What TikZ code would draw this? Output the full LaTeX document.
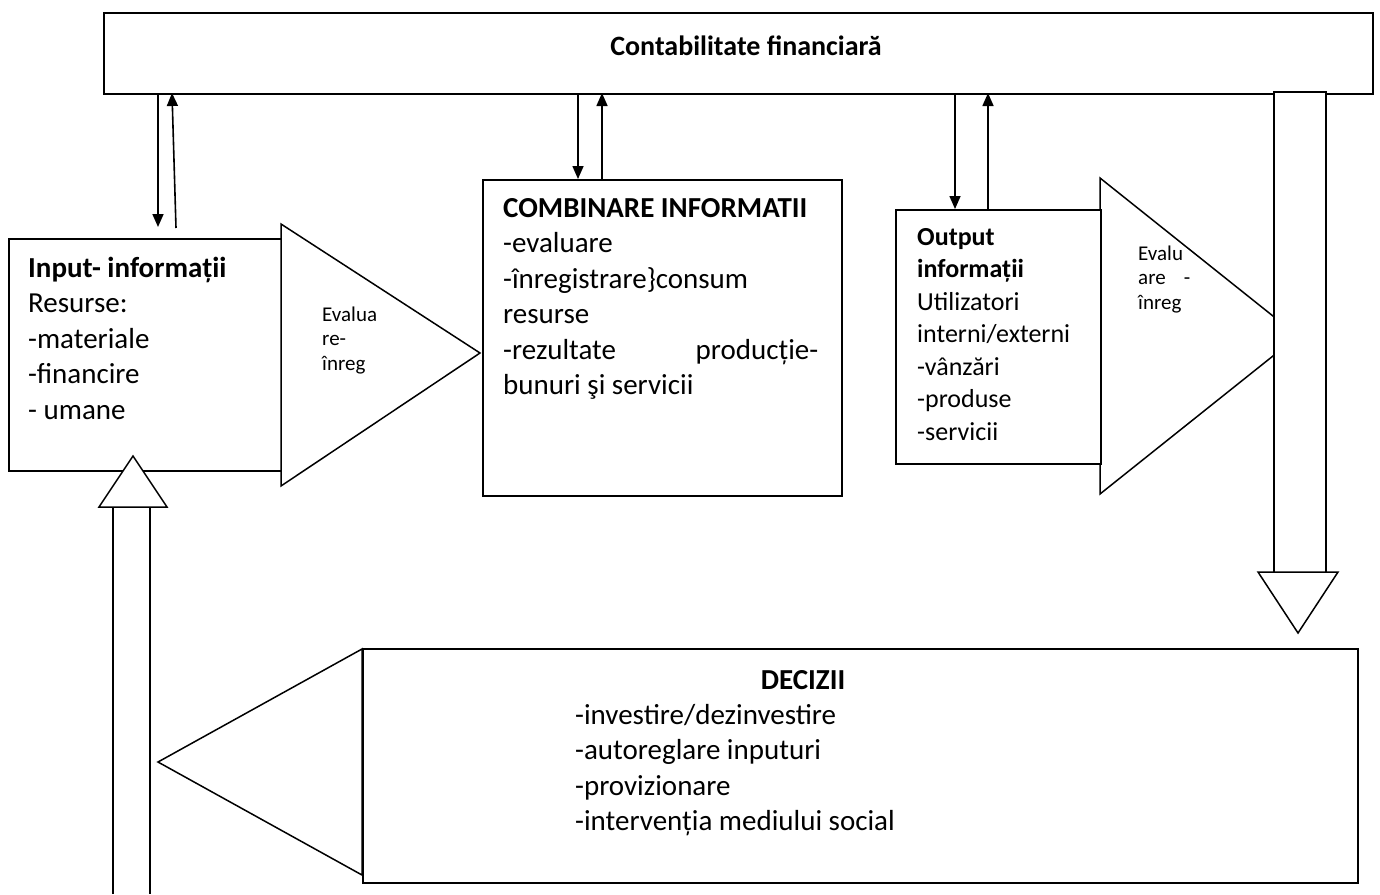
\documentclass[tikz,border=0pt]{standalone}
\usepackage{fontspec}
\setmainfont{Carlito}
\usetikzlibrary{arrows.meta}

\begin{document}
\begin{tikzpicture}[x=1pt,y=-1pt]
\tikzset{
  box/.style={draw,line width=1.5pt,fill=white,anchor=north west,inner sep=0pt},
  wedge/.style={draw,line width=1.5pt,fill=white,line join=miter},
  bigtext/.style={anchor=base west,inner sep=0pt,align=flush left,font=\fontsize{29}{35.5}\selectfont},
  outtext/.style={anchor=base west,inner sep=0pt,align=flush left,font=\fontsize{26}{32.5}\selectfont},
  smalltext/.style={anchor=base west,inner sep=0pt,align=flush left,font=\fontsize{21}{24.5}\selectfont},
  flow/.style={-{Triangle[length=13pt,width=11pt]},line width=1.6pt}
}
\useasboundingbox (0,0) rectangle (1380,894);

% top bar
\node[box,minimum width=1269pt,minimum height=81pt] (fin) at (103,12) {};
\node[anchor=base,inner sep=0pt,font=\bfseries\fontsize{28}{34}\selectfont] (fin_t) at (746,55) {Contabilitate financiară};

% input
\node[box,minimum width=273pt,minimum height=232pt] (inp) at (8,238) {};
\draw[wedge] (281,224) -- (480,353) -- (281,486) -- cycle;
\node[bigtext,text width=250pt] (inp_t) at (28,277) {{\bfseries Input- informații}\\Resurse:\\-materiale\\-financire\\- umane};
\node[smalltext,text width=60pt] (ev1) at (322,321) {Evalua\\re-\\înreg};

% combinare
\node[box,minimum width=359pt,minimum height=316pt] (mix) at (482,179) {};
\node[bigtext,text width=330pt] (mix_t) at (503,217) {{\bfseries COMBINARE INFORMATII}\\-evaluare\\-înregistrare\}consum\\resurse\\\leavevmode\hbox to 315pt{-rezultate\hfill producție-}\\bunuri şi servicii};

% output
\draw[wedge] (1100,178) -- (1298,336) -- (1100,494) -- cycle;
\node[box,minimum width=205pt,minimum height=254pt] (out) at (895,209) {};
\node[outtext,text width=180pt] (out_t) at (917,245) {{\bfseries Output\\informații}\\Utilizatori\\interni/externi\\-vânzări\\-produse\\-servicii};
\node[smalltext,text width=60pt] (ev2) at (1138,260) {Evalu\\\leavevmode\hbox to 52pt{are\hfill -}\\înreg};

% big arrow down
\node[box,minimum width=52pt,minimum height=481pt] (down) at (1273,91) {};
\draw[wedge] (1258,572) -- (1338,572) -- (1298,633) -- cycle;

% decizii
\draw[wedge] (362,649) -- (158,762) -- (362,875) -- cycle;
\node[box,minimum width=995pt,minimum height=234pt] (dec) at (362,648) {};
\node[anchor=base,inner sep=0pt,font=\bfseries\fontsize{29}{35}\selectfont] (dec_h) at (803,689) {DECIZII};
\node[bigtext,text width=400pt] (dec_t) at (575,724) {-investire/dezinvestire\\-autoreglare inputuri\\-provizionare\\-intervenția mediului social};

% big arrow up
\draw[line width=1.5pt] (113,894) -- (113,507) (150,507) -- (150,894);
\draw[wedge] (99,507) -- (167,507) -- (133,456) -- cycle;

% small arrows
\coordinate (l_dn) at (158,93);
\coordinate (l_dn_e) at (158,227);
\coordinate (l_up) at (176,228);
\coordinate (l_up_e) at (172,93);
\coordinate (m_dn) at (578,93);
\coordinate (m_up) at (602,93);
\coordinate (r_dn) at (955,93);
\coordinate (r_up) at (988,93);
\draw[flow] (l_dn) -- (l_dn_e);
\draw[flow] (l_up) -- (l_up_e);
\draw[flow] (m_dn) -- (m_dn |- mix.north);
\draw[flow] (m_up |- mix.north) -- (m_up);
\draw[flow] (r_dn) -- (r_dn |- out.north);
\draw[flow] (r_up |- out.north) -- (r_up);
\end{tikzpicture}
\end{document}
